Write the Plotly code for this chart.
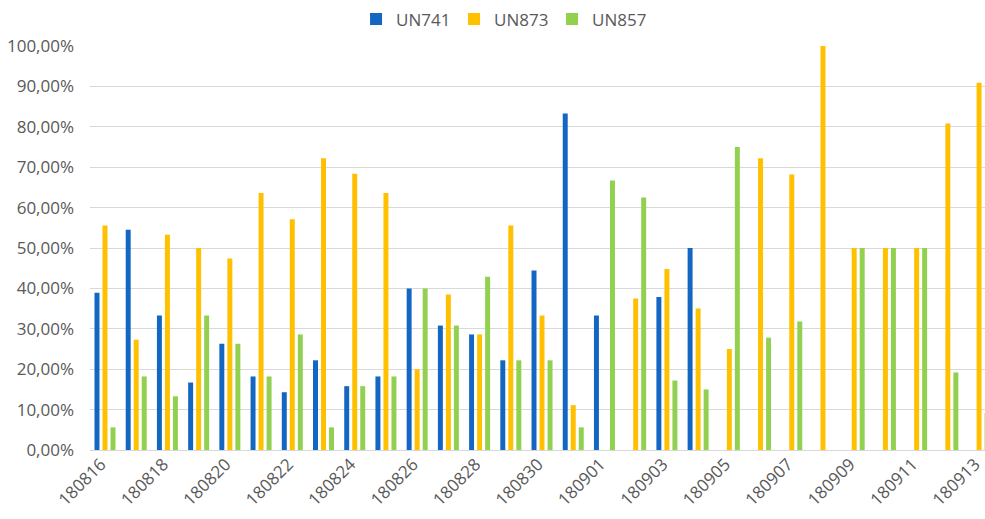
import plotly.graph_objects as go

categories = ["180816", "180817", "180818", "180819", "180820", "180821", "180822",
              "180823", "180824", "180825", "180826", "180827", "180828", "180829",
              "180830", "180831", "180901", "180902", "180903", "180904", "180905",
              "180906", "180907", "180908", "180909", "180910", "180911", "180912",
              "180913"]

un741 = [38.9, 54.5, 33.3, 16.7, 26.3, 18.2, 14.3, 22.2, 15.8, 18.2, 40.0, 30.8, 28.6, 22.2,
         44.4, 83.3, 33.3, 0, 37.9, 50.0, 0, 0, 0, 0, 0, 0, 0, 0, 0]
un873 = [55.6, 27.3, 53.3, 50.0, 47.4, 63.6, 57.1, 72.2, 68.4, 63.6, 20.0, 38.5, 28.6, 55.6,
         33.3, 11.1, 0, 37.5, 44.8, 35.0, 25.0, 72.2, 68.2, 100.0, 50.0, 50.0, 50.0, 80.8, 90.9]
un857 = [5.6, 18.2, 13.3, 33.3, 26.3, 18.2, 28.6, 5.6, 15.8, 18.2, 40.0, 30.8, 42.9, 22.2,
         22.2, 5.6, 66.7, 62.5, 17.2, 15.0, 75.0, 27.8, 31.8, 0, 50.0, 50.0, 50.0, 19.2, 9.1]

y_ticks = [0, 10, 20, 30, 40, 50, 60, 70, 80, 90, 100]
y_tick_labels = ["0,00%", "10,00%", "20,00%", "30,00%", "40,00%", "50,00%",
                 "60,00%", "70,00%", "80,00%", "90,00%", "100,00%"]
x_tick_labels = categories[::2]

series = [("UN741", un741, "#1366C2"), ("UN873", un873, "#FFC000"), ("UN857", un857, "#92D050")]

font_family = "Open Sans, DejaVu Sans, sans-serif"
fig = go.Figure()
for name, vals, color in series:
    fig.add_trace(go.Bar(
        x=list(range(len(categories))), y=vals, name=name,
        marker=dict(color=color, line=dict(width=0)),
    ))

fig.update_layout(
    width=985, height=519,
    margin=dict(l=90, r=0, t=46, b=69, autoexpand=False),
    paper_bgcolor="white", plot_bgcolor="white",
    barmode="group", bargap=0.23, bargroupgap=0.38,
    font=dict(family=font_family, size=16, color="#595959"),
    legend=dict(orientation="h", x=0.4615, xanchor="center", y=1.11, yanchor="top",
                font=dict(size=17, color="#595959"),
                entrywidth=53, entrywidthmode="pixels",
                itemwidth=30, traceorder="normal"),
    showlegend=True,
)
fig.update_xaxes(
    range=[-0.48, 28.19], automargin=False,
    tickmode="array", tickvals=list(range(0, len(categories), 2)), ticktext=x_tick_labels,
    tickangle=-45, showgrid=False, zeroline=False, showline=False, ticks="",
    tickfont=dict(size=17, color="#595959"), ticklabeloverflow="allow",
    ticklabelshift=-4,
)
fig.update_yaxes(
    range=[0, 100], automargin=False,
    tickmode="array", tickvals=y_ticks, ticktext=y_tick_labels,
    showgrid=True, gridcolor="#D9D9D9", gridwidth=1,
    zeroline=True, zerolinecolor="#D9D9D9", zerolinewidth=1,
    tickfont=dict(size=17, color="#595959"), ticks="", ticklabelstandoff=15,
)

fig.write_html("out.html", config={"displayModeBar": False},
               post_script="document.body.style.margin='0';document.body.style.overflow='hidden';")
